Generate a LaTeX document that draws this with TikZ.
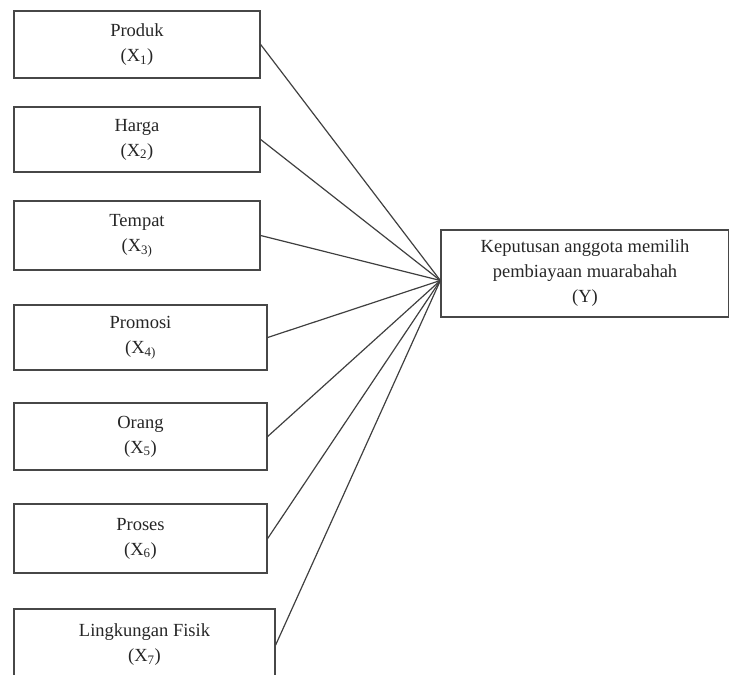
\documentclass[tikz,border=0pt]{standalone}
\usepackage{fontspec}
\setmainfont{Liberation Serif}
\begin{document}
\begin{tikzpicture}[x=1pt,y=-1pt,
  box/.style={draw=black!72,line width=1.3pt,rectangle,inner sep=0pt,
    align=center,text=black!85,font=\fontsize{18.5}{25}\selectfont},
  link/.style={draw=black!75,line width=1.2pt}]
\useasboundingbox (0,0) rectangle (729,675);
\node[box,minimum width=246pt,minimum height=67pt] (x1) at (137,44.5) {Produk\\(X\textsubscript{1})};
\node[box,minimum width=246pt,minimum height=65pt] (x2) at (137,139.5) {Harga\\(X\textsubscript{2})};
\node[box,minimum width=246pt,minimum height=69pt] (x3) at (137,235.5) {Tempat\\(X\textsubscript{3)}};
\node[box,minimum width=253pt,minimum height=65pt] (x4) at (140.5,337.5) {Promosi\\(X\textsubscript{4)}};
\node[box,minimum width=253pt,minimum height=67pt] (x5) at (140.5,436.5) {Orang\\(X\textsubscript{5})};
\node[box,minimum width=253pt,minimum height=69pt] (x6) at (140.5,538.5) {Proses\\(X\textsubscript{6})};
\node[box,minimum width=261pt,minimum height=72pt] (x7) at (144.5,645) {Lingkungan Fisik\\(X\textsubscript{7})};
\node[box,minimum width=288pt,minimum height=87pt] (y) at (585,273.5) {Keputusan anggota memilih\\pembiayaan muarabahah\\(Y)};
\coordinate (hub) at ([yshift=-7pt]y.west);
\foreach \n in {x1,x2,x3,x4,x5,x6,x7}{\draw[link] (\n.east) -- (hub);}
\end{tikzpicture}
\end{document}
